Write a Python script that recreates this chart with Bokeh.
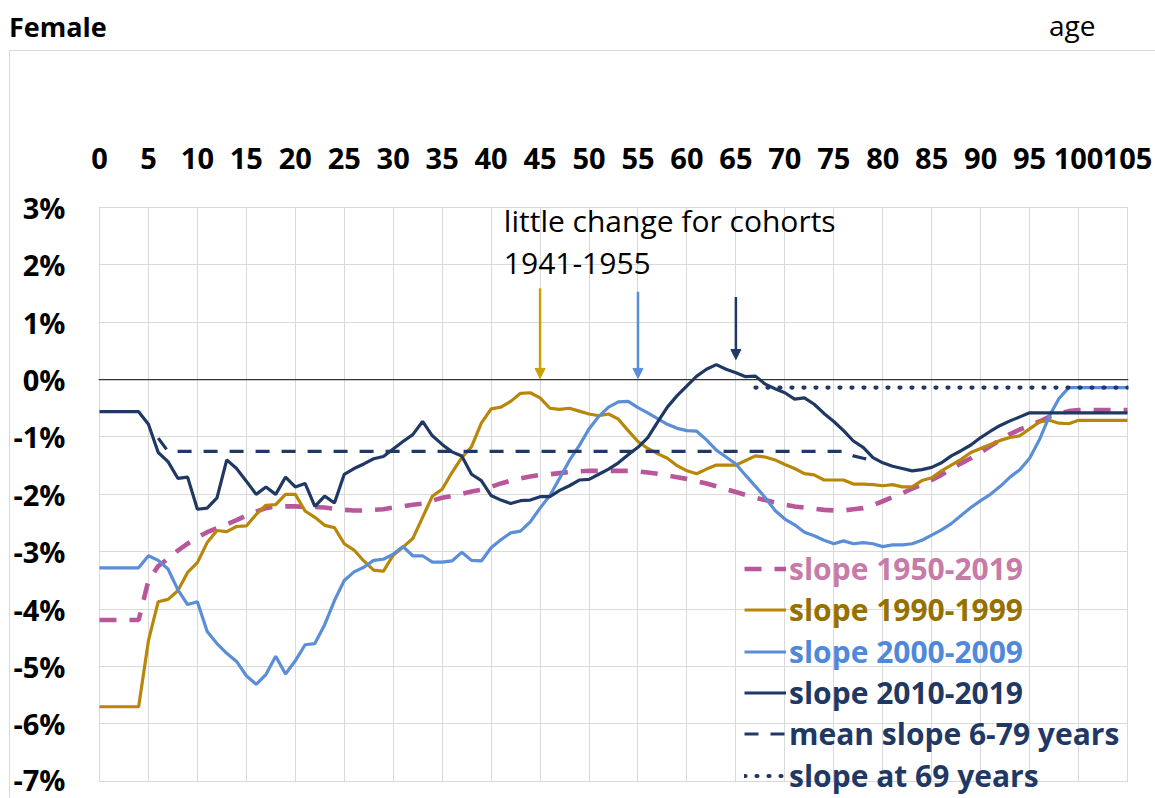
from bokeh.plotting import figure
from bokeh.layouts import column, row
from bokeh.models import (Range1d, FixedTicker, Span, Label, Legend, LegendItem,
                          Arrow, NormalHead, BoxAnnotation, Div)
from bokeh.embed import file_html
from bokeh.resources import INLINE

# ---------------- data ----------------
ages = list(range(106))

slope_1950_2019 = [
    -4.19, -4.19, -4.19, -4.19, -4.19, -3.50, -3.25, -3.12, -2.98, -2.86,
    -2.75, -2.66, -2.59, -2.52, -2.45, -2.37, -2.30, -2.24, -2.21, -2.21,
    -2.21, -2.22, -2.22, -2.23, -2.25, -2.27, -2.28, -2.28, -2.27, -2.26,
    -2.23, -2.21, -2.18, -2.16, -2.11, -2.06, -2.03, -1.99, -1.95, -1.92,
    -1.87, -1.81, -1.76, -1.72, -1.69, -1.66, -1.65, -1.63, -1.61, -1.60,
    -1.59, -1.59, -1.59, -1.59, -1.59, -1.60, -1.62, -1.64, -1.67, -1.70,
    -1.73, -1.77, -1.81, -1.86, -1.91, -1.96, -2.01, -2.06, -2.10, -2.14,
    -2.18, -2.21, -2.23, -2.25, -2.27, -2.28, -2.28, -2.26, -2.24, -2.19,
    -2.12, -2.05, -1.98, -1.90, -1.83, -1.75, -1.66, -1.56, -1.46, -1.37,
    -1.27, -1.16, -1.05, -0.95, -0.87, -0.80, -0.73, -0.65, -0.59, -0.55,
    -0.53, -0.53, -0.53, -0.53, -0.53, -0.53]

slope_1990_1999 = [
    -5.70, -5.70, -5.70, -5.70, -5.70, -4.55, -3.87, -3.83, -3.68, -3.36,
    -3.19, -2.84, -2.63, -2.65, -2.56, -2.55, -2.35, -2.19, -2.18, -2.00,
    -2.00, -2.29, -2.40, -2.54, -2.58, -2.86, -2.97, -3.16, -3.32, -3.34,
    -3.06, -2.92, -2.77, -2.40, -2.03, -1.91, -1.62, -1.36, -1.17, -0.76,
    -0.51, -0.48, -0.38, -0.24, -0.23, -0.32, -0.50, -0.52, -0.50, -0.55,
    -0.60, -0.63, -0.60, -0.69, -0.89, -1.08, -1.20, -1.29, -1.37, -1.50,
    -1.59, -1.64, -1.56, -1.49, -1.49, -1.49, -1.41, -1.33, -1.35, -1.40,
    -1.48, -1.55, -1.64, -1.66, -1.75, -1.75, -1.75, -1.82, -1.82, -1.83,
    -1.85, -1.83, -1.87, -1.87, -1.76, -1.71, -1.59, -1.49, -1.39, -1.27,
    -1.20, -1.13, -1.06, -1.01, -0.98, -0.86, -0.74, -0.71, -0.76, -0.77,
    -0.71, -0.71, -0.71, -0.71, -0.71, -0.71]

slope_2000_2009 = [
    -3.28, -3.28, -3.28, -3.28, -3.28, -3.07, -3.15, -3.30, -3.66, -3.92,
    -3.87, -4.39, -4.60, -4.77, -4.91, -5.16, -5.31, -5.14, -4.82, -5.13,
    -4.90, -4.62, -4.60, -4.27, -3.85, -3.50, -3.35, -3.27, -3.15, -3.13,
    -3.04, -2.91, -3.07, -3.07, -3.18, -3.18, -3.16, -3.01, -3.15, -3.16,
    -2.93, -2.79, -2.67, -2.64, -2.48, -2.24, -2.02, -1.72, -1.41, -1.15,
    -0.86, -0.64, -0.48, -0.39, -0.38, -0.49, -0.58, -0.68, -0.78, -0.85,
    -0.89, -0.90, -1.05, -1.23, -1.35, -1.47, -1.67, -1.86, -2.06, -2.28,
    -2.43, -2.53, -2.66, -2.72, -2.80, -2.86, -2.81, -2.86, -2.84, -2.86,
    -2.91, -2.88, -2.88, -2.86, -2.80, -2.71, -2.62, -2.51, -2.37, -2.23,
    -2.11, -2.00, -1.86, -1.70, -1.57, -1.37, -1.05, -0.64, -0.33, -0.14,
    -0.14, -0.14, -0.14, -0.14, -0.14, -0.14]

slope_2010_2019 = [
    -0.56, -0.56, -0.56, -0.56, -0.56, -0.78, -1.27, -1.43, -1.72, -1.70,
    -2.26, -2.24, -2.06, -1.40, -1.55, -1.77, -2.00, -1.87, -2.00, -1.70,
    -1.87, -1.81, -2.21, -2.03, -2.15, -1.65, -1.55, -1.47, -1.38, -1.34,
    -1.21, -1.08, -0.96, -0.73, -0.98, -1.13, -1.26, -1.33, -1.65, -1.76,
    -2.02, -2.10, -2.16, -2.11, -2.10, -2.04, -2.04, -1.93, -1.85, -1.75,
    -1.74, -1.65, -1.56, -1.45, -1.31, -1.18, -1.01, -0.74, -0.48, -0.28,
    -0.11, 0.06, 0.18, 0.26, 0.18, 0.12, 0.05, 0.06, -0.08, -0.16,
    -0.23, -0.34, -0.32, -0.43, -0.59, -0.73, -0.89, -1.07, -1.18, -1.36,
    -1.45, -1.51, -1.55, -1.59, -1.57, -1.53, -1.45, -1.33, -1.24, -1.14,
    -1.01, -0.90, -0.80, -0.72, -0.65, -0.58, -0.58, -0.58, -0.58, -0.58,
    -0.58, -0.58, -0.58, -0.58, -0.58, -0.58]

mean_ages = [6, 7, 76, 77, 78, 79]
mean_slope_6_79 = [-1.02, -1.25, -1.25, -1.33, -1.37, -1.41]

at69_ages = [67, 105]
slope_at_69 = [-0.14, -0.14]

x_ticks = [0, 5, 10, 15, 20, 25, 30, 35, 40, 45, 50, 55, 60, 65, 70, 75, 80,
           85, 90, 95, 100, 105]
y_ticks = [3, 2, 1, 0, -1, -2, -3, -4, -5, -6, -7]
y_tick_labels = ["3%", "2%", "1%", "0%", "-1%", "-2%", "-3%", "-4%", "-5%",
                 "-6%", "-7%"]

arrow_ages = [45, 55, 65]
arrow_tops = [1.59, 1.53, 1.44]
arrow_tips = [0.02, 0.02, 0.35]

legend_labels = ["slope 1950-2019", "slope 1990-1999", "slope 2000-2009",
                 "slope 2010-2019", "mean slope 6-79 years", "slope at 69 years"]

# ---------------- styles / layout ----------------
NAVY = "#1F3864"
GOLD = "#B8870A"
BLUE = "#5B8ED8"
PINK = "#B9579B"
GRID = "#D9D9D9"
FONT = "Open Sans"

PAGE_W, PAGE_H = 1155, 798
HEAD_H = 51              # header strip with the titles
LEFT_W = 10              # strip holding the chart's left border line
W, H = PAGE_W - LEFT_W, PAGE_H - HEAD_H
PX_X = 9.81              # pixels per year
PX_Y = 57.4              # pixels per percentage point
X0, X1 = -0.1, 105.1     # one pixel beyond the outer grid lines
Y1 = 3.015
FL = 86                  # frame left inside the figure
FT = 155                 # frame top inside the figure
FW = int(round((X1 - X0) * PX_X))
FH = H - FT
Y0 = Y1 - FH / PX_Y

p = figure(width=W, height=H, output_backend="svg", toolbar_location=None,
           x_range=Range1d(X0, X1), y_range=Range1d(Y0, Y1),
           x_axis_location="above", y_axis_location="left",
           min_border_left=FL, min_border_top=FT,
           min_border_right=W - FL - FW, min_border_bottom=0,
           background_fill_color="white", border_fill_color="white",
           margin=0)
p.outline_line_color = None

# axes
xa = p.xaxis[0]
xa.ticker = FixedTicker(ticks=x_ticks)
xa.axis_line_color = None
xa.major_tick_line_color = None
xa.minor_tick_line_color = None
xa.major_tick_out = 0
xa.major_label_standoff = 38
xa.major_label_text_font = FONT
xa.major_label_text_font_style = "bold"
xa.major_label_text_font_size = "29px"
xa.major_label_text_color = "black"

ya = p.yaxis[0]
ya.ticker = FixedTicker(ticks=y_ticks)
ya.major_label_overrides = {t: l for t, l in zip(y_ticks, y_tick_labels)}
ya.axis_line_color = None
ya.major_tick_line_color = None
ya.minor_tick_line_color = None
ya.major_tick_out = 0
ya.major_label_standoff = 33
ya.major_label_text_font = FONT
ya.major_label_text_font_style = "bold"
ya.major_label_text_font_size = "29px"
ya.major_label_text_color = "black"

p.xgrid.ticker = FixedTicker(ticks=x_ticks)
p.ygrid.ticker = FixedTicker(ticks=y_ticks)
p.grid.grid_line_color = GRID
p.grid.grid_line_width = 1

# hide the grid below the -7% line (the frame extends lower for the legend)
p.add_layout(BoxAnnotation(top=y_ticks[-1] - 0.015, fill_color="white",
                           fill_alpha=1, line_alpha=0, level="underlay"))

p.add_layout(Span(location=0, dimension="width", line_color="#333333",
                  line_width=1.3))

# series
r_pink = p.line(ages, slope_1950_2019, line_color=PINK, line_width=4.6,
                line_dash="17 13")
r_gold = p.line(ages, slope_1990_1999, line_color=GOLD, line_width=3.2)
r_blue = p.line(ages, slope_2000_2009, line_color=BLUE, line_width=3.2)
r_navy = p.line(ages, slope_2010_2019, line_color=NAVY, line_width=3.2)
r_mean = p.line(mean_ages, mean_slope_6_79, line_color=NAVY, line_width=3.2,
                line_dash="14 12")
r_69 = p.line(at69_ages, slope_at_69, line_color=NAVY, line_width=4.2,
              line_dash="1 11", line_cap="round")

# arrows
arrow_colors = ["#C9A000", BLUE, NAVY]
for xa_, yt, ye, c in zip(arrow_ages, arrow_tops, arrow_tips, arrow_colors):
    p.add_layout(Arrow(end=NormalHead(size=10, fill_color=c, line_color=c),
                       x_start=xa_, y_start=yt, x_end=xa_, y_end=ye,
                       line_color=c, line_width=2.5))

# annotation text
p.add_layout(Label(x=41.3, y=2.77, text="little change for cohorts",
                   text_font=FONT, text_font_size="30px", text_color="black",
                   text_baseline="alphabetic"))
p.add_layout(Label(x=41.3, y=2.02, text="1941-1955",
                   text_font=FONT, text_font_size="30px", text_color="black",
                   text_baseline="alphabetic"))

# legends (one per item, so each can have its own text colour)
legend_renderers = [r_pink, r_gold, r_blue, r_navy, r_mean, r_69]
legend_text_colors = ["#C77BA8", "#957200", "#5089DA", NAVY, NAVY, NAVY]
row_h = 41.4
frame_top_page = HEAD_H + FT
for i, (lab, rend, tc) in enumerate(zip(legend_labels, legend_renderers,
                                         legend_text_colors)):
    centre = 568 + i * row_h - frame_top_page   # below frame top
    vy = FH - (centre + row_h / 2)
    lg = Legend(items=[LegendItem(label=lab, renderers=[rend])],
                location=(742 - LEFT_W - FL, vy), padding=0, margin=0,
                spacing=0, glyph_width=42, glyph_height=int(row_h),
                label_height=int(row_h), label_standoff=3,
                label_text_font=FONT, label_text_font_style="bold",
                label_text_font_size="30px", label_text_color=tc,
                border_line_alpha=0, background_fill_alpha=0)
    p.add_layout(lg, "center")

# header with titles and the chart's top border line
header_html = (
    f'<div style="position:relative;width:{PAGE_W}px;height:{HEAD_H}px;">'
    '<span style="position:absolute;left:9px;top:12.7px;font-family:\'Open Sans\';'
    'font-weight:bold;font-size:27px;line-height:27px;color:black;'
    'white-space:nowrap;">Female</span>'
    '<span style="position:absolute;left:1049px;top:11.2px;font-family:\'Open Sans\';'
    'font-size:28px;line-height:28px;color:black;white-space:nowrap;">age</span>'
    f'<div style="position:absolute;left:9px;top:50px;width:{PAGE_W - 9}px;'
    f'height:1px;background:{GRID};"></div>'
    '</div>')
header = Div(text=header_html, width=PAGE_W, height=HEAD_H, margin=0)

left_html = (
    f'<div style="position:relative;width:{LEFT_W}px;height:{H}px;">'
    f'<div style="position:absolute;left:9px;top:0px;width:1px;height:{H}px;'
    f'background:{GRID};"></div></div>')
left_strip = Div(text=left_html, width=LEFT_W, height=H, margin=0)

layout = column(header, row(left_strip, p, spacing=0), spacing=0)

open("out.html", "w").write(file_html(layout, INLINE))
